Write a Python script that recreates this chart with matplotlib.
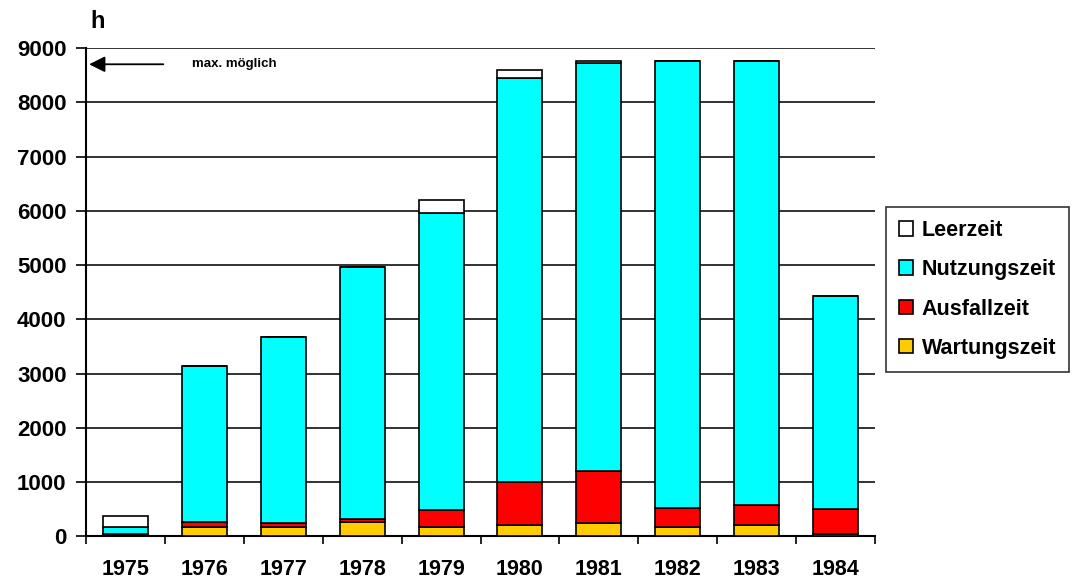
import matplotlib.pyplot as plt
import numpy as np

plt.rcParams['font.family'] = ['Liberation Sans', 'DejaVu Sans']
plt.rcParams['font.weight'] = 'bold'

years = ['1975', '1976', '1977', '1978', '1979', '1980', '1981', '1982', '1983', '1984']
wartung = [15, 170, 170, 260, 180, 210, 240, 180, 210, 40]
ausfall = [35, 90, 75, 65, 310, 790, 960, 340, 360, 470]
nutzung = [120, 2870, 3435, 4645, 5465, 7450, 7520, 8240, 8190, 3915]
leer = [210, 0, 0, 0, 245, 150, 40, 0, 0, 0]

series = [('Wartungszeit', wartung, '#FFCC00'),
          ('Ausfallzeit', ausfall, '#FF0000'),
          ('Nutzungszeit', nutzung, '#00FFFF'),
          ('Leerzeit', leer, '#FFFFFF')]

fig = plt.figure(figsize=(10.89, 5.84), dpi=100)
ax = fig.add_axes([86/1089, 1-536.3/584, (875-86)/1089, (536.3-48)/584])

x = np.arange(len(years))
bottom = np.zeros(len(years))
handles = []
for name, vals, col in series:
    b = ax.bar(x, vals, 0.57, bottom=bottom, color=col, edgecolor='black',
               linewidth=1.2, label=name, zorder=3)
    bottom += np.array(vals)
    handles.append(b)

ax.set_xlim(-0.5, len(years) - 0.5)
ax.set_ylim(0, 9000)
ax.set_yticks(np.arange(0, 9001, 1000))
ax.set_yticklabels([str(v) for v in range(0, 9001, 1000)], fontsize=16, fontweight='bold')
ax.yaxis.grid(True, color='#222222', linewidth=1.3, zorder=0)

# ticks between bars, labels centered under bars
ax.set_xticks(np.arange(-0.5, len(years), 1.0))
ax.set_xticklabels([])
ax.set_xticks(x, minor=True)
ax.set_xticklabels(years, minor=True, fontsize=15.5, fontweight='bold')
ax.tick_params(axis='x', which='minor', length=0, pad=16)
ax.tick_params(axis='x', which='major', length=6, width=1.2, direction='out')
ax.tick_params(axis='y', length=7, width=1.2, direction='out', pad=7)

for s in ['left', 'bottom']:
    ax.spines[s].set_linewidth(1.5)
for s in ['top', 'right']:
    ax.spines[s].set_visible(False)

fig.text(90/1089, 1-21/584, 'h', fontsize=17, fontweight='bold', va='center', ha='left')

ax.annotate('', xy=(0.004, 8700), xytext=(0.098, 8700),
            xycoords=('axes fraction', 'data'),
            arrowprops=dict(arrowstyle='-|>', color='black', lw=1.3,
                            mutation_scale=24, shrinkA=0, shrinkB=0))
ax.text(0.134, 8700, 'max. möglich', transform=ax.get_yaxis_transform(),
        fontsize=9.5, fontweight='bold', va='center', ha='left')

leg = fig.legend(handles[::-1], [s[0] for s in series[::-1]],
                 loc='upper left', bbox_to_anchor=(886/1089, 1-207/584),
                 frameon=True, fancybox=False, edgecolor='black',
                 prop={'size': 15.5, 'weight': 'bold'},
                 handlelength=0.65, handleheight=0.65, handletextpad=0.4,
                 labelspacing=0.85, borderpad=0.6, borderaxespad=0)
leg.get_frame().set_linewidth(1.2)

fig.savefig('out.png', dpi=100)
